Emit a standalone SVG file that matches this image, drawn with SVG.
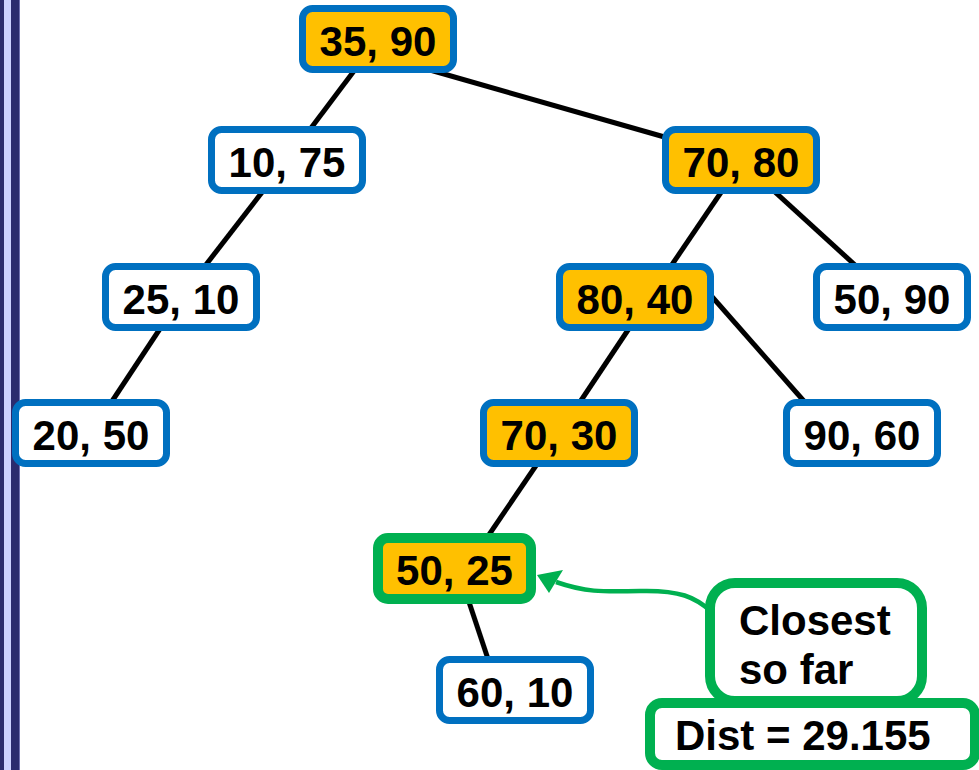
<svg xmlns="http://www.w3.org/2000/svg" width="979" height="770" viewBox="0 0 979 770">
<defs>
<style>
.node rect{stroke:#0070C0;stroke-width:7}
.gold rect{fill:#FFC000}
.white rect{fill:#FFFFFF}
text{font-family:"Liberation Sans",Arial,sans-serif;font-weight:bold;font-size:42px;fill:#000}
.node text{text-anchor:middle}
.edges line{stroke:#000;stroke-width:5}
.green{stroke:#00B050;stroke-width:10;fill:#FFFFFF}
</style>
</defs>
<rect x="0" y="0" width="979" height="770" fill="#FFFFFF"/>
<g id="sidebar">
<rect x="0" y="0" width="20" height="770" fill="#7070B0"/>
<rect x="0" y="0" width="4" height="770" fill="#2B2B6E"/>
<rect x="4" y="0" width="7" height="770" fill="#CCD0FF"/>
<rect x="11" y="0" width="8" height="770" fill="#2B2B6E"/>
</g>
<g id="edges" class="edges">
<line x1="378" y1="39" x2="287" y2="160"/>
<line x1="430" y1="70" x2="668" y2="138"/>
<line x1="287" y1="160" x2="181" y2="297"/>
<line x1="181" y1="297" x2="91" y2="433"/>
<line x1="743" y1="160" x2="650" y2="297"/>
<line x1="740" y1="160" x2="890" y2="297"/>
<line x1="650" y1="297" x2="560" y2="432"/>
<line x1="700" y1="283" x2="810" y2="408"/>
<line x1="550" y1="445" x2="480" y2="548"/>
<line x1="460" y1="575" x2="495" y2="680"/>
</g>
<g id="n3590" class="node gold"><rect x="302.5" y="8.5" width="151" height="61" rx="10"/><text x="378" y="56">35, 90</text></g>
<g id="n1075" class="node white"><rect x="211.5" y="129.5" width="151" height="61" rx="10"/><text x="287" y="177">10, 75</text></g>
<g id="n7080" class="node gold"><rect x="665.5" y="129.5" width="151" height="61" rx="10"/><text x="741" y="177">70, 80</text></g>
<g id="n2510" class="node white"><rect x="105.5" y="266.5" width="151" height="61" rx="10"/><text x="181" y="314">25, 10</text></g>
<g id="n8040" class="node gold"><rect x="559.5" y="266.5" width="151" height="61" rx="10"/><text x="635" y="314">80, 40</text></g>
<g id="n5090" class="node white"><rect x="816.5" y="266.5" width="151" height="61" rx="10"/><text x="892" y="314">50, 90</text></g>
<g id="n2050" class="node white"><rect x="15.5" y="402.5" width="151" height="61" rx="10"/><text x="91" y="450">20, 50</text></g>
<g id="n7030" class="node gold"><rect x="483.5" y="402.5" width="151" height="61" rx="10"/><text x="559" y="450">70, 30</text></g>
<g id="n9060" class="node white"><rect x="786.5" y="402.5" width="151" height="61" rx="10"/><text x="862" y="450">90, 60</text></g>
<g id="n5025" class="node gold"><rect x="378" y="538" width="153" height="61" rx="10" style="stroke:#00B050;stroke-width:10"/><text x="454.5" y="585">50, 25</text></g>
<g id="n6010" class="node white"><rect x="439.5" y="659.5" width="151" height="61" rx="10"/><text x="515" y="707">60, 10</text></g>
<g id="arrow">
<path d="M712,612 C695,597 680,590 640,591 C600,592 585,592 556,582" fill="none" stroke="#00B050" stroke-width="4.5"/>
<path d="M537,575 L563,570 L549,593 Z" fill="#00B050"/>
</g>
<g id="closest">
<rect class="green" x="710" y="583" width="212" height="118" rx="25"/>
<text x="739" y="635">Closest</text>
<text x="739" y="684">so far</text>
</g>
<g id="dist">
<rect class="green" x="650" y="703" width="325" height="62" rx="12"/>
<text x="675" y="750">Dist = 29.155</text>
</g>
</svg>
